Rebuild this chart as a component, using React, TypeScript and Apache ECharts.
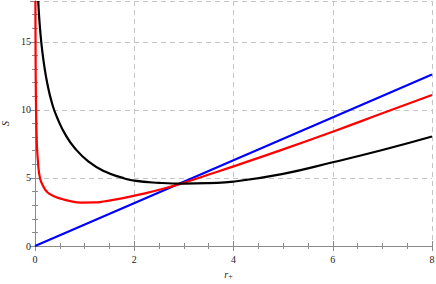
import React, { useEffect, useRef } from "react";
import * as echarts from "echarts";

// r+ values and S values
const blueR = [0, 8];
const blueS = [0, 12.6];

const redR = [0.008, 0.012, 0.018, 0.027, 0.04, 0.06, 0.1, 0.17, 0.25, 0.37, 0.5, 0.67, 0.94, 1.2, 1.41, 1.75, 2.22, 2.6, 3.0, 3.5, 4, 5, 6, 7, 8];
const redS = [18, 14, 11, 9, 7.3, 6.2, 5.0, 4.36, 3.95, 3.68, 3.5, 3.33, 3.19, 3.2, 3.29, 3.5, 3.87, 4.22, 4.65, 5.25, 5.85, 7.1, 8.4, 9.75, 11.1];

const blackR = [0.065, 0.09, 0.13, 0.18, 0.25, 0.35, 0.45, 0.61, 0.8, 1.08, 1.41, 1.75, 2.0, 2.5, 3, 3.5, 4, 5, 6, 7, 8];
const blackS = [18, 16.5, 14.85, 13.4, 11.9, 10.4, 9.4, 8.2, 7.2, 6.2, 5.47, 5.02, 4.8, 4.64, 4.58, 4.62, 4.73, 5.3, 6.15, 7.05, 8.04];

const xTicks = [0, 2, 4, 6, 8];
const yTicks = [0, 5, 10, 15];

const zip = (a: number[], b: number[]) => a.map((v, i) => [v, b[i]]);

const FONT = "'Liberation Serif', 'DejaVu Serif', serif";
const AXIS_COLOR = "#8a8a8a";

export default function App() {
  const ref = useRef<HTMLDivElement>(null);
  useEffect(() => {
    if (!ref.current) return;
    const chart = echarts.init(ref.current, undefined, { renderer: "svg" });
    const tickCommon = {
      axisLine: { show: true, lineStyle: { color: AXIS_COLOR, width: 1 } },
      axisTick: { show: true, inside: true, length: 5, lineStyle: { color: AXIS_COLOR } },
      minorTick: { show: true, length: 3, lineStyle: { color: AXIS_COLOR } },
    };
    const gridLine = { show: true, lineStyle: { color: "#c4c4c4", type: [5, 4] as any, width: 1 } };
    const labelStyle = { color: "#222", fontFamily: FONT, fontSize: 10 };
    chart.setOption({
      animation: false,
      grid: { left: 35, right: 4, top: 1, bottom: 38, containLabel: false, outerBoundsMode: "none" },
      xAxis: [
        {
          type: "value",
          min: xTicks[0],
          max: xTicks[xTicks.length - 1],
          interval: 2,
          position: "bottom",
          ...tickCommon,
          minorTick: { ...tickCommon.minorTick, splitNumber: 4 },
          splitLine: gridLine,
          axisLabel: { ...labelStyle, margin: 8 },
          name: "{i|r}{s|+}",
          nameLocation: "middle",
          nameGap: 22,
          nameTextStyle: {
            padding: [0, 10, 0, 0],
            rich: {
              i: { fontFamily: FONT, fontStyle: "italic", fontSize: 10, color: "#222", lineHeight: 12 },
              s: { fontFamily: FONT, fontSize: 8, color: "#222", lineHeight: 12, padding: [4, 0, 0, 0] },
            },
          },
        },
        {
          type: "value",
          min: xTicks[0],
          max: xTicks[xTicks.length - 1],
          interval: 2,
          position: "top",
          ...tickCommon,
          minorTick: { ...tickCommon.minorTick, splitNumber: 4 },
          splitLine: { show: false },
          axisLabel: { show: false },
        },
      ],
      yAxis: [
        {
          type: "value",
          min: yTicks[0],
          max: 18,
          interval: 5,
          position: "left",
          ...tickCommon,
          minorTick: { ...tickCommon.minorTick, splitNumber: 5 },
          splitLine: gridLine,
          axisLabel: { ...labelStyle, margin: 4, showMaxLabel: false },
          name: "S",
          nameLocation: "middle",
          nameGap: 22,
          nameRotate: 90,
          nameTextStyle: { fontFamily: FONT, fontStyle: "italic", fontSize: 10, color: "#222" },
        },
        {
          type: "value",
          min: yTicks[0],
          max: 18,
          interval: 5,
          position: "right",
          ...tickCommon,
          minorTick: { ...tickCommon.minorTick, splitNumber: 5 },
          splitLine: { show: false },
          axisLabel: { show: false },
        },
      ],
      series: [
        {
          type: "line",
          data: zip(blueR, blueS),
          showSymbol: false,
          lineStyle: { color: "#0000ff", width: 2.2 },
          itemStyle: { color: "#0000ff" },
          clip: true,
        },
        {
          type: "line",
          data: zip(redR, redS),
          showSymbol: false,
          smooth: true,
          lineStyle: { color: "#ff0000", width: 2.2 },
          itemStyle: { color: "#ff0000" },
          clip: true,
        },
        {
          type: "line",
          data: zip(blackR, blackS),
          showSymbol: false,
          smooth: true,
          lineStyle: { color: "#000000", width: 2.2 },
          itemStyle: { color: "#000000" },
          clip: true,
        },
      ],
    });
    return () => chart.dispose();
  }, []);
  return (
    <div
      ref={ref}
      style={{ position: "fixed", left: 0, top: 0, width: 436, height: 284, background: "#fff" }}
    />
  );
}
